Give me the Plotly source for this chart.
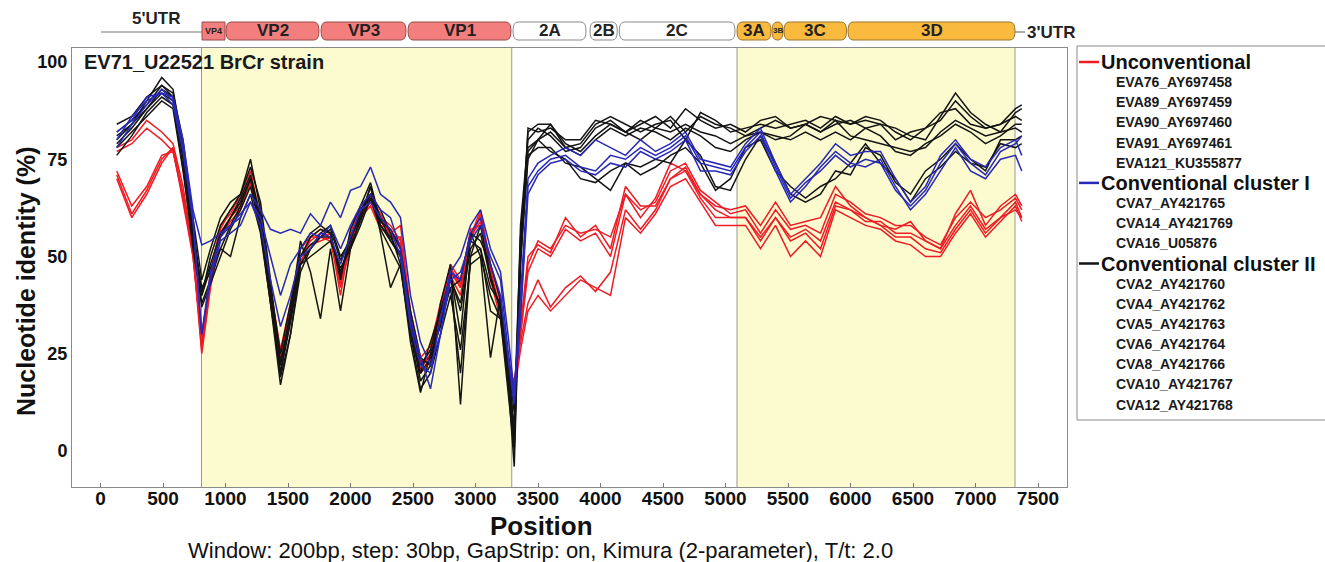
import plotly.graph_objects as go

# ---------------- data ----------------
POS = [130, 250, 370, 490, 580, 660, 740, 810, 880, 960, 1040, 1120, 1200, 1280, 1360, 1440,
       1520, 1600, 1680, 1760, 1840, 1920, 2000, 2080, 2160, 2240, 2320, 2400, 2480, 2560, 2640,
       2720, 2800, 2880, 2960, 3040, 3120, 3200, 3260, 3310, 3360, 3420, 3500, 3600, 3720, 3840,
       3960, 4080, 4200, 4320, 4440, 4560, 4680, 4800, 4920, 5040, 5160, 5280, 5400, 5520, 5640,
       5760, 5880, 6000, 6120, 6240, 6360, 6480, 6600, 6720, 6840, 6960, 7080, 7200, 7320, 7370]

# Unconventional (red)
EVA76_AY697458 = [78, 80, 85, 82, 79, 68, 52,
    27, 44, 56, 60, 64, 70, 58, 40, 24, 36, 50, 54, 56, 55, 46, 54, 62, 66, 60, 58, 54, 34, 22, 26, 36, 48, 44, 56, 60, 46, 36, 20, 16,
    30, 48, 54, 52, 58, 56, 57, 55, 66, 62, 64, 72, 74, 67, 64, 61, 62, 56, 62, 57, 58, 56, 66, 64, 61, 60, 58, 58, 55, 53, 60, 64, 60, 62, 65, 62]
EVA89_AY697459 = [77, 79, 83, 80, 77, 66, 50,
    29, 46, 58, 61, 66, 72, 60, 42, 26, 38, 52, 55, 57, 56, 42, 56, 63, 66, 59, 56, 58, 36, 24, 27, 38, 47, 42, 55, 62, 48, 38, 22, 17,
    32, 50, 53, 51, 60, 55, 58, 52, 68, 63, 63, 70, 73, 66, 63, 62, 63, 58, 64, 58, 59, 60, 68, 63, 60, 58, 57, 59, 54, 52, 61, 67, 58, 63, 66, 63]
EVA90_AY697460 = [71, 61, 67, 75, 78, 66, 52,
    26, 43, 56, 60, 63, 70, 58, 41, 25, 37, 50, 53, 54, 55, 40, 55, 60, 64, 58, 57, 53, 33, 23, 24, 35, 46, 42, 57, 58, 47, 35, 21, 18,
    30, 46, 52, 50, 57, 54, 56, 50, 66, 60, 65, 74, 72, 66, 62, 60, 60, 55, 60, 55, 57, 54, 64, 62, 59, 59, 56, 56, 54, 52, 58, 63, 57, 60, 64, 60]
EVA91_AY697461 = [70, 60, 66, 74, 78, 64, 50,
    28, 45, 57, 62, 65, 71, 59, 39, 23, 35, 48, 55, 55, 56, 44, 53, 61, 65, 61, 55, 55, 35, 21, 25, 37, 47, 43, 54, 61, 45, 37, 19, 17,
    28, 38, 44, 37, 42, 45, 41, 46, 62, 57, 62, 70, 72, 65, 60, 60, 60, 54, 60, 54, 56, 52, 63, 62, 60, 58, 55, 55, 52, 51, 57, 62, 56, 60, 62, 60]
EVA121_KU355877 = [72, 63, 68, 76, 77, 65, 51,
    25, 42, 55, 59, 62, 69, 57, 38, 22, 34, 49, 52, 55, 54, 43, 52, 60, 63, 57, 56, 52, 32, 20, 23, 34, 45, 40, 55, 59, 44, 34, 18, 15,
    26, 36, 40, 36, 40, 44, 42, 40, 60, 56, 61, 68, 70, 64, 58, 58, 58, 52, 58, 50, 54, 50, 62, 60, 58, 57, 54, 53, 50, 50, 56, 61, 55, 59, 63, 59]

# Conventional cluster I (blue)
CVA7_AY421765 = [80, 86, 90, 92, 91, 80, 62,
    53, 54, 56, 58, 60, 66, 62, 57, 56, 57, 56, 61, 58, 64, 60, 67, 68, 73, 66, 64, 60, 40, 28, 22, 30, 46, 50, 58, 62, 52, 46, 30, 15,
    40, 70, 74, 76, 78, 76, 80, 78, 76, 80, 77, 79, 82, 75, 74, 73, 79, 83, 74, 66, 70, 74, 79, 76, 77, 77, 70, 64, 68, 76, 80, 75, 73, 78, 80, 76]
CVA14_AY421769 = [78, 84, 89, 93, 90, 78, 60,
    30, 44, 54, 56, 58, 64, 60, 50, 40, 48, 52, 56, 55, 58, 52, 58, 63, 66, 62, 60, 52, 34, 24, 16, 30, 44, 46, 54, 58, 50, 44, 26, 14,
    34, 66, 71, 74, 75, 72, 71, 74, 73, 77, 75, 77, 80, 72, 72, 71, 77, 81, 72, 64, 68, 73, 77, 74, 73, 75, 68, 62, 66, 72, 78, 72, 70, 75, 76, 72]
CVA16_U05876 = [82, 85, 91, 92, 89, 77, 59,
    30, 46, 55, 58, 61, 64, 58, 44, 32, 40, 50, 52, 56, 55, 48, 55, 62, 64, 60, 57, 50, 32, 22, 20, 34, 46, 44, 56, 60, 48, 40, 24, 12,
    36, 68, 72, 75, 76, 73, 72, 76, 75, 78, 76, 78, 81, 74, 73, 72, 78, 82, 73, 65, 69, 72, 76, 73, 75, 74, 67, 63, 67, 74, 79, 74, 71, 77, 79, 81]

# Conventional cluster II (black)
CVA2_AY421760 = [81, 84, 90, 96, 93, 78, 58,
    40, 50, 58, 62, 66, 75, 62, 40, 20, 35, 52, 56, 58, 56, 45, 55, 60, 68, 58, 55, 50, 32, 18, 22, 38, 48, 12, 50, 58, 45, 36, 18, -4,
    52, 82, 84, 84, 78, 79, 84, 86, 84, 82, 84, 85, 80, 87, 85, 82, 83, 84, 83, 84, 85, 83, 86, 84, 85, 84, 83, 81, 80, 86, 92, 87, 84, 82, 87, 88]
CVA4_AY421762 = [79, 83, 88, 93, 91, 75, 55,
    42, 46, 55, 60, 64, 70, 58, 38, 17, 30, 48, 52, 56, 58, 50, 54, 62, 66, 62, 56, 48, 28, 15, 25, 32, 46, 30, 56, 50, 24, 40, 20, 2,
    58, 80, 83, 81, 77, 78, 83, 85, 82, 84, 86, 83, 88, 85, 83, 84, 82, 85, 86, 83, 84, 86, 85, 84, 86, 85, 82, 80, 83, 85, 90, 86, 83, 84, 86, 85]
CVA5_AY421763 = [84, 86, 91, 94, 92, 80, 60,
    44, 52, 60, 64, 66, 73, 64, 44, 22, 36, 54, 46, 34, 52, 36, 52, 60, 68, 56, 42, 48, 30, 20, 28, 36, 44, 38, 54, 52, 36, 34, 22, 6,
    48, 83, 82, 83, 80, 80, 85, 84, 82, 85, 83, 86, 82, 86, 84, 83, 81, 83, 85, 83, 84, 82, 84, 85, 83, 84, 80, 82, 83, 87, 88, 84, 83, 84, 88, 89]
CVA6_AY421764 = [76, 81, 87, 91, 89, 73, 52,
    38, 44, 52, 58, 63, 70, 60, 42, 25, 38, 50, 55, 57, 56, 44, 57, 63, 69, 59, 57, 52, 36, 24, 22, 34, 42, 44, 56, 54, 48, 39, 24, 10,
    55, 77, 80, 84, 79, 77, 81, 84, 82, 80, 83, 82, 84, 82, 81, 79, 81, 82, 80, 81, 84, 82, 85, 81, 80, 79, 78, 77, 78, 82, 85, 83, 81, 82, 83, 82]
CVA8_AY421766 = [80, 84, 88, 92, 90, 76, 57,
    40, 47, 52, 50, 60, 66, 56, 38, 20, 33, 48, 50, 52, 54, 47, 52, 58, 65, 57, 52, 47, 30, 16, 20, 30, 40, 26, 48, 50, 40, 34, 16, 0,
    48, 76, 78, 78, 74, 73, 70, 67, 74, 73, 75, 74, 80, 76, 68, 67, 75, 81, 74, 66, 64, 66, 72, 71, 78, 76, 69, 66, 72, 75, 79, 75, 72, 80, 80, 81]
CVA10_AY421767 = [78, 82, 86, 90, 88, 72, 54,
    37, 43, 50, 57, 62, 68, 57, 40, 19, 30, 46, 52, 55, 55, 46, 53, 59, 66, 60, 54, 51, 33, 20, 24, 33, 42, 20, 50, 52, 42, 38, 18, 2,
    50, 75, 80, 77, 75, 70, 69, 72, 74, 71, 73, 76, 78, 74, 67, 70, 78, 80, 72, 68, 65, 68, 70, 74, 79, 74, 70, 64, 70, 73, 77, 74, 73, 79, 78, 79]
CVA12_AY421768 = [82, 85, 89, 94, 91, 77, 56,
    41, 48, 56, 60, 65, 71, 60, 41, 23, 34, 50, 53, 55, 57, 49, 55, 61, 66, 58, 54, 50, 34, 22, 26, 36, 45, 36, 52, 56, 44, 37, 21, 5,
    54, 78, 80, 82, 78, 76, 80, 83, 81, 83, 82, 80, 83, 81, 78, 77, 80, 82, 81, 80, 82, 80, 82, 80, 83, 81, 77, 76, 79, 81, 84, 82, 79, 81, 84, 84]

GROUP_NAMES = ["Unconventional", "Conventional cluster I", "Conventional cluster II"]
GROUP_COLORS = ["rgb(238,28,36)", "rgb(40,40,185)", "rgb(20,20,20)"]
UNCONV_LABELS = ["EVA76_AY697458", "EVA89_AY697459", "EVA90_AY697460", "EVA91_AY697461", "EVA121_KU355877"]
UNCONV_SERIES = [EVA76_AY697458, EVA89_AY697459, EVA90_AY697460, EVA91_AY697461, EVA121_KU355877]
CONV1_LABELS = ["CVA7_AY421765", "CVA14_AY421769", "CVA16_U05876"]
CONV1_SERIES = [CVA7_AY421765, CVA14_AY421769, CVA16_U05876]
CONV2_LABELS = ["CVA2_AY421760", "CVA4_AY421762", "CVA5_AY421763", "CVA6_AY421764",
                "CVA8_AY421766", "CVA10_AY421767", "CVA12_AY421768"]
CONV2_SERIES = [CVA2_AY421760, CVA4_AY421762, CVA5_AY421763, CVA6_AY421764,
                CVA8_AY421766, CVA10_AY421767, CVA12_AY421768]

X_TICKS = [0, 500, 1000, 1500, 2000, 2500, 3000, 3500, 4000, 4500, 5000, 5500, 6000, 6500, 7000, 7500]
Y_TICKS = [0, 25, 50, 75, 100]

# highlighted regions (P1, P3) and genome map
REGIONS = [(808, 3290), (5092, 7316)]
GENE_NAMES = ["VP4", "VP2", "VP3", "VP1", "2A", "2B", "2C", "3A", "3B", "3C", "3D"]
GENE_START = [812, 1004, 1764, 2460, 3300, 3916, 4150, 5092, 5372, 5468, 5980]
GENE_END = [996, 1748, 2444, 3284, 3884, 4134, 5076, 5364, 5460, 5968, 7316]
GENE_FILL = ["#F27E7E"] * 4 + ["#FFFFFF"] * 3 + ["#F9BA3E"] * 4
GENE_LINE = ["#9A4A4A"] * 4 + ["#8A8A8A"] * 3 + ["#9A7630"] * 4
GENE_FONT = [9, 17, 17, 17, 17, 17, 17, 17, 8, 17, 17]

# ---------------- layout geometry ----------------
W, H = 1325, 562
L, R, T, B = 72, 1067, 48, 487
XMIN, XMAX = -228, 7732
YMIN, YMAX = -9.25, 103.6
FONT = "Arial, Liberation Sans, sans-serif"


def bx(bp):
    return (bp - XMIN) / (XMAX - XMIN)


def pxx(px):
    return (px - L) / (R - L)


def pyy(py):
    return (B - py) / (B - T)


fig = go.Figure()

for series_list, labels, color in [(UNCONV_SERIES, UNCONV_LABELS, GROUP_COLORS[0]),
                                   (CONV2_SERIES, CONV2_LABELS, GROUP_COLORS[2]),
                                   (CONV1_SERIES, CONV1_LABELS, GROUP_COLORS[1])]:
    for vals, name in zip(series_list, labels):
        fig.add_trace(go.Scatter(x=POS, y=vals, mode="lines", name=name,
                                 line=dict(color=color, width=1.5), showlegend=False))

shapes = []
annotations = []

# yellow regions
for x0, x1 in REGIONS:
    shapes.append(dict(type="rect", xref="x", yref="paper", x0=x0, x1=x1, y0=0, y1=1,
                       fillcolor="#FBFBCF", line=dict(width=0), layer="below"))
    for xv in (x0, x1):
        shapes.append(dict(type="line", xref="x", yref="paper", x0=xv, x1=xv, y0=0, y1=1,
                           line=dict(color="#9A9A8A", width=1), layer="below"))


def pill(x0, x1, y0, y1, r):
    ym = (y0 + y1) / 2
    return (f"M {x0 + r},{y0} L {x1 - r},{y0} Q {x1},{y0} {x1},{ym} Q {x1},{y1} {x1 - r},{y1} "
            f"L {x0 + r},{y1} Q {x0},{y1} {x0},{ym} Q {x0},{y0} {x0 + r},{y0} Z")


# genome map
gy0, gy1, gym = pyy(40), pyy(22), pyy(31)
shapes.append(dict(type="line", xref="paper", yref="paper", x0=bx(4), x1=bx(GENE_START[0]),
                   y0=pyy(32), y1=pyy(32), line=dict(color="#777", width=1.2)))
shapes.append(dict(type="line", xref="paper", yref="paper", x0=bx(GENE_END[-1]), x1=pxx(1025),
                   y0=pyy(32), y1=pyy(32), line=dict(color="#777", width=1.2)))
for name, s, e, fc, lc, fs in zip(GENE_NAMES, GENE_START, GENE_END, GENE_FILL, GENE_LINE, GENE_FONT):
    r = 0 if name == "VP4" else 5 / (R - L)
    shapes.append(dict(type="path", xref="paper", yref="paper",
                       path=pill(bx(s), bx(e), gy0, gy1, r),
                       fillcolor=fc, line=dict(color=lc, width=1)))
    annotations.append(dict(xref="paper", yref="paper", x=bx((s + e) / 2), y=gym,
                            text=f"<b>{name}</b>", showarrow=False, xanchor="center", yanchor="middle",
                            font=dict(size=fs, color="#222", family=FONT)))
annotations.append(dict(xref="paper", yref="paper", x=pxx(156), y=pyy(19), text="<b>5'UTR</b>",
                        showarrow=False, xanchor="center", yanchor="middle",
                        font=dict(size=17, color="#222", family=FONT)))
annotations.append(dict(xref="paper", yref="paper", x=pxx(1025), y=pyy(32), text="<b>3'UTR</b>",
                        showarrow=False, xanchor="left", yanchor="middle",
                        font=dict(size=17, color="#222", family=FONT)))

# chart inner title
annotations.append(dict(xref="paper", yref="paper", x=pxx(82), y=pyy(62),
                        text="<b>EV71_U22521 BrCr strain</b>", showarrow=False,
                        xanchor="left", yanchor="middle", font=dict(size=20, color="#1a1a1a", family=FONT)))

# axis titles and footnote
annotations.append(dict(xref="paper", yref="paper", x=pxx(26), y=pyy(282),
                        text="<b>Nucleotide identity (%)</b>", textangle=-90, showarrow=False,
                        xanchor="center", yanchor="middle", font=dict(size=25, color="#111", family=FONT)))
annotations.append(dict(xref="paper", yref="paper", x=pxx(541), y=pyy(526),
                        text="<b>Position</b>", showarrow=False,
                        xanchor="center", yanchor="middle", font=dict(size=26, color="#111", family=FONT)))
annotations.append(dict(xref="paper", yref="paper", x=pxx(540), y=pyy(550),
                        text="Window: 200bp, step: 30bp, GapStrip: on, Kimura (2-parameter), T/t: 2.0",
                        showarrow=False, xanchor="center", yanchor="middle",
                        font=dict(size=22, color="#111", family=FONT)))

# legend box
shapes.append(dict(type="rect", xref="paper", yref="paper", x0=pxx(1077), x1=pxx(1345),
                   y0=pyy(420), y1=pyy(46), line=dict(color="#8A8A8A", width=1),
                   fillcolor="rgba(0,0,0,0)"))
row = 0
ROW0, ROWSTEP = 62, 20.15
for gname, gcolor, labels in zip(GROUP_NAMES, GROUP_COLORS, [UNCONV_LABELS, CONV1_LABELS, CONV2_LABELS]):
    yrow = ROW0 + ROWSTEP * row
    shapes.append(dict(type="line", xref="paper", yref="paper", x0=pxx(1079), x1=pxx(1099),
                       y0=pyy(yrow), y1=pyy(yrow), line=dict(color=gcolor, width=2.5)))
    annotations.append(dict(xref="paper", yref="paper", x=pxx(1099), y=pyy(yrow),
                            text=f"<b>{gname}</b>", showarrow=False, xanchor="left", yanchor="middle",
                            font=dict(size=20, color="#111", family=FONT)))
    row += 1
    for lab in labels:
        yrow = ROW0 + ROWSTEP * row
        annotations.append(dict(xref="paper", yref="paper", x=pxx(1114), y=pyy(yrow),
                                text=f"<b>{lab}</b>", showarrow=False, xanchor="left", yanchor="middle",
                                font=dict(size=14, color="#1a1a1a", family=FONT)))
        row += 1

fig.update_layout(
    width=W, height=H,
    margin=dict(l=L, r=W - R, t=T, b=H - B, pad=0),
    paper_bgcolor="white", plot_bgcolor="white",
    showlegend=False,
    font=dict(family=FONT, color="#111"),
    shapes=shapes, annotations=annotations,
    xaxis=dict(range=[XMIN, XMAX], tickvals=X_TICKS, ticktext=[str(v) for v in X_TICKS],
               ticks="inside", ticklen=4, tickcolor="#777", showline=True, linecolor="#8A8A8A",
               linewidth=1, mirror=True, showgrid=False, zeroline=False, ticklabelstandoff=-6,
               tickfont=dict(size=19, color="#111", family=FONT, weight="bold")),
    yaxis=dict(range=[YMIN, YMAX], tickvals=Y_TICKS, ticks="", showline=True, linecolor="#8A8A8A",
               linewidth=1, mirror=True, showgrid=False, zeroline=False,
               tickfont=dict(size=18, color="#111", family=FONT, weight="bold")),
)

fig.write_html("out.html")
